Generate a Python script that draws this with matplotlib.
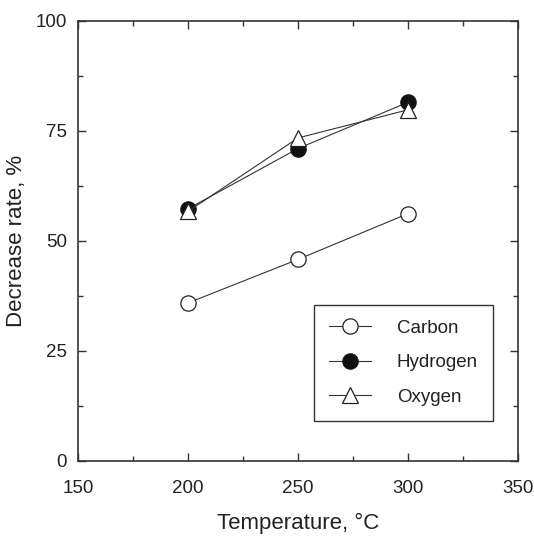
import numpy as np
import matplotlib.pyplot as plt
from matplotlib.ticker import MultipleLocator

plt.rcParams['font.family'] = ['Liberation Sans', 'DejaVu Sans']

temperature = [200, 250, 300]
carbon = [35.9, 45.8, 56.2]
hydrogen = [57.3, 71.0, 81.5]
oxygen = [56.7, 73.4, 79.8]

fig = plt.figure(figsize=(5.34, 5.36), dpi=100)
ax = fig.add_axes([0.146, 0.140, 0.824, 0.821])

line_col = '#333333'
ax.plot(temperature, carbon, '-', color=line_col, lw=0.8, marker='o', ms=11,
        mfc='white', mec='#222222', mew=0.9, label='Carbon')
ax.plot(temperature, hydrogen, '-', color=line_col, lw=0.8, marker='o', ms=11,
        mfc='#111111', mec='#111111', mew=0.9, label='Hydrogen')
ax.plot(temperature, oxygen, '-', color=line_col, lw=0.8, marker='^', ms=11.5,
        mfc='white', mec='#222222', mew=0.9, label='Oxygen')

ax.set_xlim(150, 350)
ax.set_ylim(0, 100)
ax.xaxis.set_major_locator(MultipleLocator(50))
ax.xaxis.set_minor_locator(MultipleLocator(25))
ax.yaxis.set_major_locator(MultipleLocator(25))
ax.yaxis.set_minor_locator(MultipleLocator(12.5))

ax.tick_params(which='both', direction='in', top=True, right=True,
               color='#333333', labelsize=13.5, labelcolor='#222222')
ax.tick_params(axis='x', which='major', length=6, width=1, pad=14)
ax.tick_params(axis='y', which='major', length=6, width=1, pad=8)
ax.tick_params(which='minor', length=3.5, width=1)

for s in ax.spines.values():
    s.set_linewidth(1.2)
    s.set_color('#333333')

ax.set_xlabel('Temperature, °C', fontsize=16, color='#222222', labelpad=11)
ax.set_ylabel('Decrease rate, %', fontsize=16, color='#222222', labelpad=6)

leg = ax.legend(loc='lower right', bbox_to_anchor=(0.943, 0.091), fontsize=13.5,
                frameon=True, fancybox=False, framealpha=1, edgecolor='#333333',
                handlelength=2.2, handletextpad=1.4, labelspacing=0.93,
                borderpad=0.8, borderaxespad=0)
leg.get_frame().set_linewidth(1.0)
for t in leg.get_texts():
    t.set_color('#222222')

fig.savefig('out.png', dpi=100)
